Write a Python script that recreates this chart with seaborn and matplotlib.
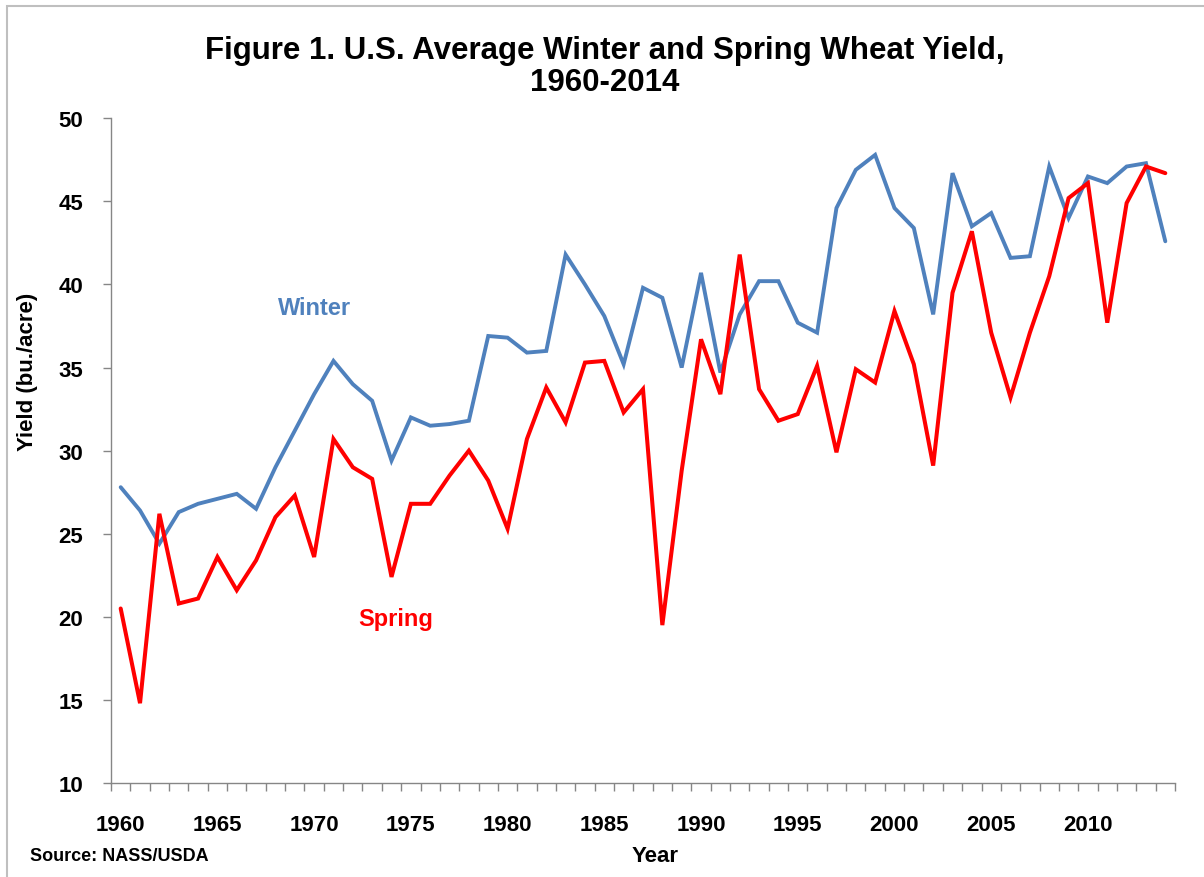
import numpy as np
import pandas as pd
import matplotlib
matplotlib.use("Agg")
import matplotlib.pyplot as plt
import seaborn as sns
from matplotlib.patches import Rectangle
from matplotlib.ticker import FixedLocator

# ------------------------------------------------------------------
#  Data (bu./acre)
# ------------------------------------------------------------------
years = list(range(1960, 2015))

winter = [27.8, 26.4, 24.4, 26.3, 26.8, 27.1, 27.4, 26.5, 29.0, 31.2,
          33.4, 35.4, 34.0, 33.0, 29.4, 32.0, 31.5, 31.6, 31.8, 36.9,
          36.8, 35.9, 36.0, 41.8, 40.0, 38.1, 35.2, 39.8, 39.2, 35.0,
          40.7, 34.7, 38.2, 40.2, 40.2, 37.7, 37.1, 44.6, 46.9, 47.8,
          44.6, 43.4, 38.2, 46.7, 43.5, 44.3, 41.6, 41.7, 47.1, 44.0,
          46.5, 46.1, 47.1, 47.3, 42.6]

spring = [20.5, 14.8, 26.2, 20.8, 21.1, 23.6, 21.6, 23.4, 26.0, 27.3,
          23.6, 30.7, 29.0, 28.3, 22.4, 26.8, 26.8, 28.5, 30.0, 28.2,
          25.3, 30.7, 33.8, 31.7, 35.3, 35.4, 32.3, 33.7, 19.5, 28.8,
          36.7, 33.4, 41.8, 33.7, 31.8, 32.2, 35.1, 29.9, 34.9, 34.1,
          38.4, 35.2, 29.1, 39.5, 43.2, 37.1, 33.2, 37.1, 40.5, 45.2,
          46.1, 37.7, 44.9, 47.1, 46.7]

series_names = ["Winter", "Spring"]
series_colors = {"Winter": "#4F81BD", "Spring": "#FF0000"}
year_labels = list(range(1960, 2011, 5))
yield_ticks = list(range(10, 51, 5))

df = pd.DataFrame({"Year": years, "Winter": winter, "Spring": spring})
long_df = df.melt(id_vars="Year", value_vars=series_names,
                  var_name="Type", value_name="Yield")

# ------------------------------------------------------------------
#  Figure
# ------------------------------------------------------------------
sns.set_style("white")
plt.rcParams["font.family"] = ["Liberation Sans", "DejaVu Sans"]
plt.rcParams["font.weight"] = "bold"
plt.rcParams["text.color"] = "black"
plt.rcParams["xtick.labelcolor"] = "black"
plt.rcParams["ytick.labelcolor"] = "black"

fig = plt.figure(figsize=(12.04, 8.78), dpi=100)
ax = fig.add_axes([0.0922, 0.1071, 0.8837, 0.757])

sns.lineplot(data=long_df, x="Year", y="Yield", hue="Type",
             palette=series_colors, ax=ax, legend=False)
for line, name in zip(ax.get_lines(), series_names):
    line.set_linewidth(2.8 if name == "Winter" else 2.9)
    line.set_solid_joinstyle("miter")

# category-style x axis: labels at centres, ticks between categories
ax.set_xlim(years[0] - 0.5, years[-1] + 0.5)
ax.xaxis.set_major_locator(FixedLocator(year_labels))
ax.xaxis.set_minor_locator(FixedLocator(np.arange(years[0] - 0.5, years[-1] + 1, 1)))
ax.tick_params(axis="x", which="major", length=0, pad=22, labelsize=16,
               labelcolor="black")
ax.tick_params(axis="x", which="minor", length=6, width=1, color="#868686",
               direction="out", bottom=True)

ax.set_ylim(10, 50)
ax.yaxis.set_major_locator(FixedLocator(yield_ticks))
ax.tick_params(axis="y", which="major", length=6, width=1, color="#868686",
               direction="out", pad=14, labelsize=16, left=True,
               labelcolor="black")

for lbl in ax.get_xticklabels() + ax.get_yticklabels():
    lbl.set_fontweight("bold")

for side in ["top", "right"]:
    ax.spines[side].set_visible(False)
for side in ["left", "bottom"]:
    ax.spines[side].set_color("#868686")
    ax.spines[side].set_linewidth(1)

ax.set_xlabel("")
ax.set_ylabel("")

# series labels
ax.text(1970.0, 38.6, "Winter", color=series_colors["Winter"],
        fontsize=17, fontweight="bold", ha="center", va="center")
ax.text(1974.2, 19.9, "Spring", color=series_colors["Spring"],
        fontsize=17, fontweight="bold", ha="center", va="center")

# titles and axis labels
fig.text(0.5025, 1 - 67 / 878,
         "Figure 1. U.S. Average Winter and Spring Wheat Yield,\n1960-2014",
         ha="center", va="center", fontsize=22.5, fontweight="bold",
         linespacing=1.1, color="black")
fig.text(655 / 1204, 1 - 857 / 878, "Year", ha="center", va="center",
         fontsize=16, fontweight="bold", color="black")
fig.text(28 / 1204, 1 - 372 / 878, "Yield (bu./acre)", ha="center",
         va="center", rotation=90, fontsize=16, fontweight="bold",
         color="black")
fig.text(30 / 1204, 1 - 857 / 878, "Source: NASS/USDA", ha="left",
         va="center", fontsize=13, fontweight="bold", color="black")

# light frame round the chart area
fig.patches.append(Rectangle((7 / 1204, -0.01), 1.2, 1 - 7 / 878 + 0.01,
                             transform=fig.transFigure, fill=False,
                             edgecolor="#BFBFBF", linewidth=1.5))

fig.savefig("out.png", dpi=100)
plt.close(fig)
